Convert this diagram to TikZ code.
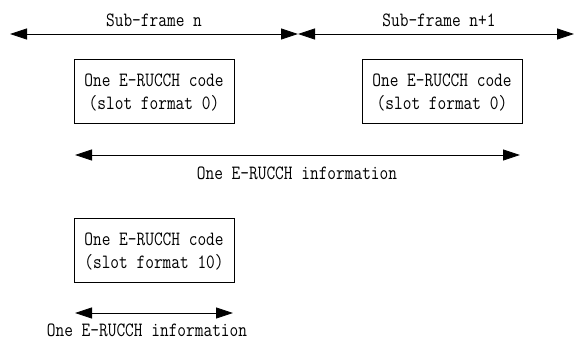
\documentclass[tikz,border=0pt]{standalone}
\usetikzlibrary{arrows.meta}
\usepackage{graphicx}
% tall narrow monospace lettering, set slightly below its reference point
\newcommand\tallmono[1]{\raisebox{-2pt}[\height][\depth]{\scalebox{1}[1.2]{\ttfamily\fontsize{16.9}{19.2}\selectfont\begin{tabular}{@{}c@{}}#1\end{tabular}}}}
\begin{document}
\begin{tikzpicture}[x=1pt,y=-1pt,
  lbl/.style={inner sep=0pt},
  codebox/.style={draw, line width=0.8pt, minimum width=160pt, minimum height=64pt,
    align=center, inner sep=0pt},
  span/.style={line width=0.8pt, {Triangle[length=17pt,width=11pt]}-{Triangle[length=17pt,width=11pt]}}]
  \useasboundingbox (0,0) rectangle (574,341);
  % sub-frame extents
  \coordinate (s1l) at (10,34);
  \coordinate (s1r) at (298,34);
  \coordinate (s2l) at (298,34);
  \coordinate (s2r) at (574,34);
  \draw[span] (s1l) -- (s1r);
  \draw[span] (s2l) -- (s2r);
  \node[lbl] (t1) at (154,20) {\tallmono{Sub-frame n}};
  \node[lbl] (t2) at (439,20) {\tallmono{Sub-frame n+1}};
  % slot format 0 codes
  \node[codebox] (b1) at (154,91) {\tallmono{One E-RUCCH code\\(slot format 0)}};
  \node[codebox] (b2) at (442,91) {\tallmono{One E-RUCCH code\\(slot format 0)}};
  \coordinate (i1l) at (75,155);
  \coordinate (i1r) at (520,155);
  \draw[span] (i1l) -- (i1r);
  \node[lbl] (t3) at (297,173) {\tallmono{One E-RUCCH information}};
  % slot format 10 code
  \node[codebox] (b3) at (154,250) {\tallmono{One E-RUCCH code\\(slot format 10)}};
  \coordinate (i2l) at (75,313);
  \coordinate (i2r) at (233,313);
  \draw[span] (i2l) -- (i2r);
  \node[lbl] (t4) at (147,330) {\tallmono{One E-RUCCH information}};
\end{tikzpicture}
\end{document}
